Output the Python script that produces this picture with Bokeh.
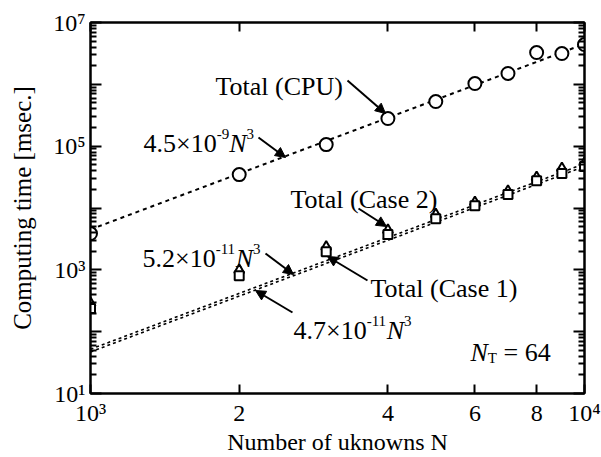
import math
from bokeh.plotting import figure
from bokeh.models import (FixedTicker, CustomJSTickFormatter, LogAxis, Label,
                          Arrow, NormalHead, Range1d)
from bokeh.embed import file_html
from bokeh.resources import INLINE

# ---------------- data ----------------
N_values = [1000, 2000, 3000, 4000, 5000, 6000, 7000, 8000, 9000, 10000]
cpu_total = [3860, 34700, 106000, 280000, 527000, 1030000, 1500000, 3270000, 3150000, 4400000]
case1_total = [236, 805, 1970, 3720, 6730, 10900, 16500, 27700, 36000, 46800]
case2_total = [290, 990, 2350, 4400, 7900, 12400, 18900, 31500, 44000, 53500]

fit_N = [1000, 10000]
fit_cpu = [4.5e3, 4.5e6]      # 4.5e-9 N^3 [s]
fit_case2 = [52.0, 5.2e4]     # 5.2e-11 N^3 [s]
fit_case1 = [47.0, 4.7e4]     # 4.7e-11 N^3 [s]

x_ticks = [1000, 2000, 4000, 6000, 8000, 10000]
x_tick_labels = ["10\u00b3", "2", "4", "6", "8", "10\u2074"]
y_ticks = [10, 100, 1000, 10000, 100000, 1000000, 10000000]
y_tick_labels = ["10\u00b9", "", "10\u00b3", "", "10\u2075", "", "10\u2077"]
y_minor_ticks = [m * 10 ** e for e in range(1, 7) for m in range(2, 10)]

x_label_text = "Number of uknowns N"
y_label_text = "Computing time [msec.]"

FONT = "Liberation Serif"

# ---------------- figure ----------------
p = figure(width=601, height=457, x_axis_type="log", y_axis_type="log",
           x_range=Range1d(1000, 10000), y_range=Range1d(10, 1e7),
           output_backend="svg", toolbar_location=None,
           min_border_left=90, min_border_right=17, min_border_top=22,
           min_border_bottom=64)
p.grid.visible = False
p.outline_line_color = "black"
p.outline_line_width = 2
p.background_fill_color = "white"
p.border_fill_color = "white"

FMT_CODE = """
for (let i = 0; i < tv.length; i++) {
  if (Math.abs(tv[i] - tick) <= 1e-6 * tv[i]) return tl[i];
}
return "";
"""


def style_axis(ax, ticks, labels, minor, major_len, minor_len, show):
    ax.ticker = FixedTicker(ticks=ticks, minor_ticks=minor)
    if show:
        ax.formatter = CustomJSTickFormatter(args=dict(tv=ticks, tl=labels), code=FMT_CODE)
        ax.major_label_text_font_size = "24px"
    else:
        ax.formatter = CustomJSTickFormatter(code='return "";')
        ax.major_label_text_font_size = "1px"
        ax.major_label_standoff = 0
    ax.axis_line_color = "black"
    ax.axis_line_width = 2
    ax.major_tick_in = major_len
    ax.major_tick_out = 0
    ax.minor_tick_in = minor_len
    ax.minor_tick_out = 0
    ax.major_tick_line_width = 2
    ax.minor_tick_line_width = 2
    ax.major_tick_line_color = "black"
    ax.minor_tick_line_color = "black"
    ax.major_label_text_font = FONT
    ax.major_label_text_color = "black"


xb = p.below[0]
yl = p.left[0]
xt = LogAxis()
yr = LogAxis()
p.add_layout(xt, "above")
p.add_layout(yr, "right")

style_axis(xb, x_ticks, x_tick_labels, [], 9, 0, True)
style_axis(xt, x_ticks, x_tick_labels, [], 9, 0, False)
style_axis(yl, y_ticks, y_tick_labels, y_minor_ticks, 11, 6, True)
style_axis(yr, y_ticks, y_tick_labels, y_minor_ticks, 11, 6, False)
xb.major_label_standoff = 6
yl.major_label_standoff = 5

for ax, txt, size, standoff in ((yl, y_label_text, "25px", 14), (xb, x_label_text, "24px", 0)):
    ax.axis_label = txt
    ax.axis_label_text_font = FONT
    ax.axis_label_text_font_size = size
    ax.axis_label_text_font_style = "normal"
    ax.axis_label_text_color = "black"
    ax.axis_label_standoff = standoff

# ---------------- fitted lines ----------------
p.line(fit_N, fit_cpu, line_color="black", line_width=2, line_dash="4 4")
p.line(fit_N, fit_case2, line_color="black", line_width=1.6, line_dash="3 3")
p.line(fit_N, fit_case1, line_color="black", line_width=1.6, line_dash="3 3")

# ---------------- markers ----------------
p.scatter(N_values, cpu_total, marker="circle", size=13, line_color="black",
          line_width=2, fill_color="white")
p.scatter(N_values, case2_total, marker="triangle", size=10, line_color="black",
          line_width=2, fill_color="white")
p.scatter(N_values, case1_total, marker="square", size=9, line_color="black",
          line_width=2, fill_color="white")

# ---------------- annotations ----------------
LX0, LX1, LY0, LY1 = math.log10(1000), math.log10(10000), math.log10(10), math.log10(1e7)
FL, FR, FT, FB = 90, 584, 22, 393


def at(px, py):
    """reference-pixel position -> data coordinates"""
    x = 10 ** (LX0 + (px - FL) / (FR - FL) * (LX1 - LX0))
    y = 10 ** (LY0 + (FB - py) / (FB - FT) * (LY1 - LY0))
    return x, y


WIDTHS = {"0": .5, "1": .5, "2": .5, "3": .5, "4": .5, "5": .5, "6": .5, "7": .5,
          "8": .5, "9": .5, ".": .25, "\u00d7": .564, "-": .333, " ": .25, "=": .564,
          "T": .611, "N": .722}
ITALIC_WIDTHS = {"N": .667}


def text_width(txt, size, italic):
    return sum((ITALIC_WIDTHS.get(c) if italic and c in ITALIC_WIDTHS else WIDTHS.get(c, .5))
               for c in txt) * size


def rich(px, py, pieces):
    """pieces: (text, size, italic, rise_px); leading spaces become a gap"""
    cx = px
    for txt, size, italic, rise in pieces:
        stripped = txt.lstrip(" ")
        cx += text_width(txt[:len(txt) - len(stripped)], size, italic)
        x, y = at(cx, py - rise)
        p.add_layout(Label(x=x, y=y, text=stripped, text_font=FONT,
                           text_font_size=f"{size}px",
                           text_font_style="italic" if italic else "normal",
                           text_baseline="alphabetic", text_align="left",
                           text_color="black"))
        cx += text_width(stripped, size, italic)


def arrow(p0, p1):
    x0, y0 = at(*p0)
    x1, y1 = at(*p1)
    p.add_layout(Arrow(x_start=x0, y_start=y0, x_end=x1, y_end=y1,
                       line_color="black", line_width=2,
                       end=NormalHead(size=10, fill_color="black", line_color="black",
                                      line_width=1)))


BIG, SUP = 26, 15
rich(215, 86, [("Total (CPU)", BIG, False, 0)])
arrow((347, 80), (385, 113))

rich(143, 143, [("4.5\u00d710", BIG, False, 0), ("-9", SUP, False, 10),
                ("N", BIG, True, 0), ("3", SUP, False, 10)])
arrow((258, 137), (285, 157))

rich(290, 199, [("Total (Case 2)", BIG, False, 0)])
arrow((358, 208), (386, 226))

rich(142, 258, [("5.2\u00d710", BIG, False, 0), ("-11", SUP, False, 10),
                ("N", BIG, True, 0), ("3", SUP, False, 10)])
arrow((265, 253), (293, 274))

rich(370, 288, [("Total (Case 1)", BIG, False, 0)])
arrow((367, 280), (327, 256))

rich(293, 330, [("4.7\u00d710", BIG, False, 0), ("-11", SUP, False, 10),
                ("N", BIG, True, 0), ("3", SUP, False, 10)])
arrow((292, 312), (255, 290))

rich(470, 352, [("N", BIG, True, 0), ("T", SUP, False, -5), (" = 64", BIG, False, 0)])

open("out.html", "w").write(file_html(p, INLINE))
